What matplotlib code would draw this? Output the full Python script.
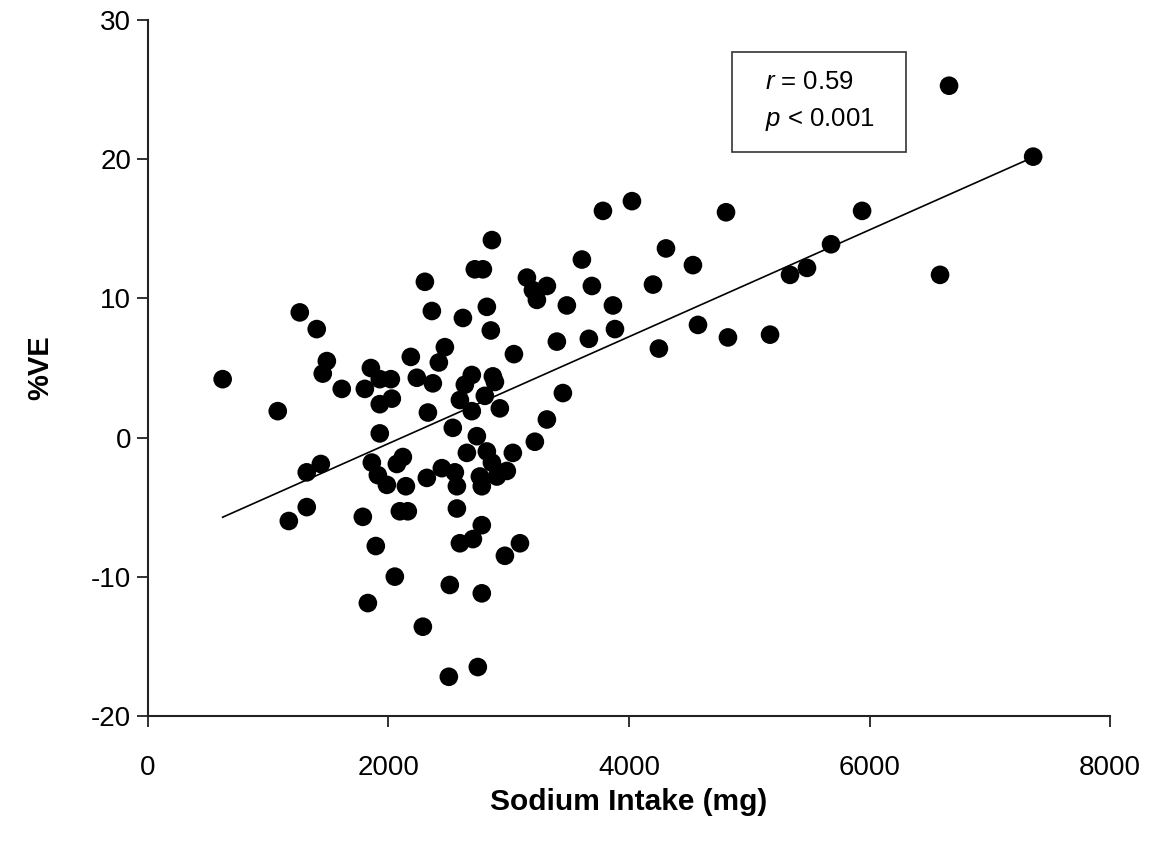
import numpy as np
import matplotlib
matplotlib.use("Agg")
import matplotlib.pyplot as plt
from matplotlib.patches import Rectangle

plt.rcParams['font.family'] = ['Liberation Sans', 'DejaVu Sans']
plt.rcParams['mathtext.fontset'] = 'custom'
plt.rcParams['mathtext.rm'] = 'Liberation Sans'
plt.rcParams['mathtext.it'] = 'Liberation Sans:italic'
plt.rcParams['axes.unicode_minus'] = False

# sodium intake (mg) and %VE
sodium = [623, 1081, 1264, 1405, 1489, 1455, 1613, 1322, 1439, 1173, 1322,
          1805, 1855, 1929, 2021, 1929, 2029, 1929, 1863, 1913, 1988, 2071,
          2121, 2146, 1788, 2096, 2162, 1896, 2054, 1830,
          2187, 2237, 2304, 2362, 2370, 2420, 2470, 2329, 2320, 2445, 2553,
          2570, 2536, 2595, 2620, 2636, 2694, 2694, 2736, 2653, 2719, 2786,
          2819, 2852, 2861, 2869, 2886, 2802, 2927, 2819, 2861, 2985, 2902,
          2761, 2777, 3035, 3044, 2570, 2777, 2595, 2703, 2969, 3094, 2511,
          2777, 2287, 2503, 2744,
          3152, 3202, 3235, 3318, 3609, 3692, 3484, 3401, 3667, 3451, 3318,
          3218, 3784, 4025, 3867, 3884,
          4200, 4249, 4308, 4532, 4574, 4807, 4823, 5173, 5339, 5480, 5680,
          5938, 6586, 6661, 7360]
ve = [4.2, 1.9, 9.0, 7.8, 5.5, 4.6, 3.5, -2.5, -1.9, -6.0, -5.0,
      3.5, 5.0, 4.2, 4.2, 2.4, 2.8, 0.3, -1.8, -2.7, -3.4, -1.9,
      -1.4, -3.5, -5.7, -5.3, -5.3, -7.8, -10.0, -11.9,
      5.8, 4.3, 11.2, 9.1, 3.9, 5.4, 6.5, 1.8, -2.9, -2.2, -2.5,
      -3.5, 0.7, 2.7, 8.6, 3.8, 4.5, 1.9, 0.1, -1.1, 12.1, 12.1,
      9.4, 7.7, 14.2, 4.4, 4.0, 3.0, 2.1, -1.0, -1.8, -2.4, -2.8,
      -2.8, -3.5, -1.1, 6.0, -5.1, -6.3, -7.6, -7.3, -8.5, -7.6, -10.6,
      -11.2, -13.6, -17.2, -16.5,
      11.5, 10.6, 9.9, 10.9, 12.8, 10.9, 9.5, 6.9, 7.1, 3.2, 1.3,
      -0.3, 16.3, 17.0, 9.5, 7.8,
      11.0, 6.4, 13.6, 12.4, 8.1, 16.2, 7.2, 7.4, 11.7, 12.2, 13.9,
      16.3, 11.7, 25.3, 20.2]

x = np.array(sodium)
y = np.array(ve)

fig = plt.figure(figsize=(11.54, 8.48), dpi=100)
ax = fig.add_axes([0.128, 0.156, 0.834, 0.82])

ax.scatter(x, y, s=180, color="black", edgecolors="none", zorder=3)

# least squares line over the data range
slope, icpt = np.polyfit(x, y, 1)
xs = np.array([x.min(), x.max()])
ax.plot(xs, slope * xs + icpt, color="black", lw=1.2, zorder=2)

ax.set_xlim(0, 8000)
ax.set_ylim(-20, 30)
ax.set_xticks([0, 2000, 4000, 6000, 8000])
ax.set_yticks([-20, -10, 0, 10, 20, 30])

for s in ["top", "right"]:
    ax.spines[s].set_visible(False)
for s in ["left", "bottom"]:
    ax.spines[s].set_linewidth(1.5)
    ax.spines[s].set_color("#222222")

ax.tick_params(axis="both", direction="out", length=8, width=1.3,
               color="#222222", labelsize=20)
ax.tick_params(axis="x", pad=20)
ax.tick_params(axis="y", pad=4)

ax.set_xlabel("Sodium Intake (mg)", fontsize=21.5, fontweight="bold", labelpad=5)
ax.set_ylabel("%VE", fontsize=21, fontweight="bold", labelpad=26)

# stats box
ax.add_patch(Rectangle((4857, 20.5), 1446, 7.2, fill=False, lw=1.2,
                       edgecolor="#333333", zorder=4))
ax.text(5130, 25.6, r"$\it{r}$ = 0.59", fontsize=18.5, va="center")
ax.text(5130, 22.9, r"$\it{p}$ < 0.001", fontsize=18.5, va="center")

plt.savefig("out.png", dpi=100)
